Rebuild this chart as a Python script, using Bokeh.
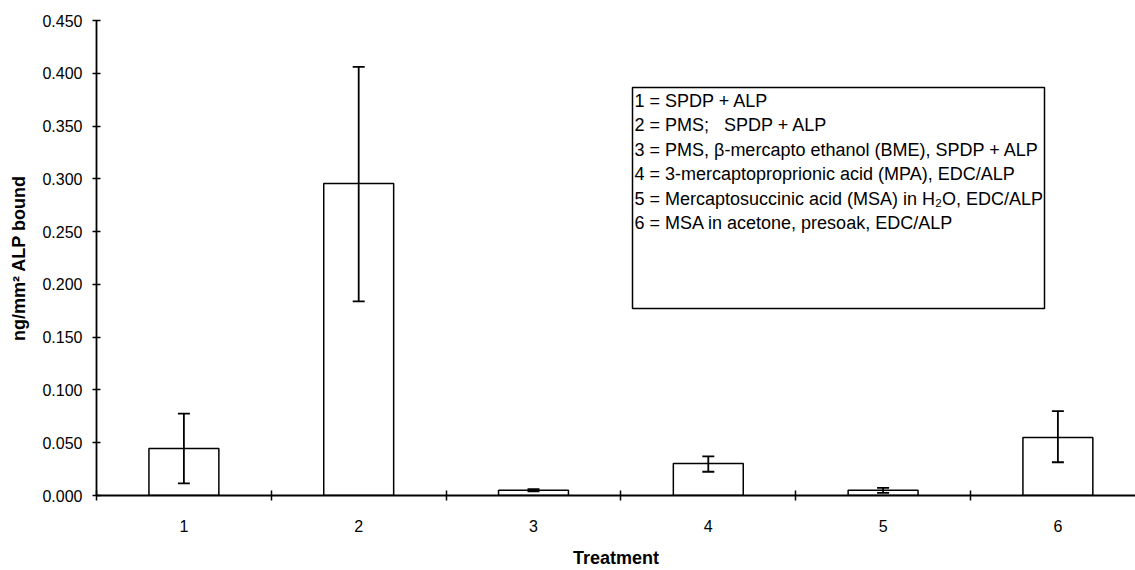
from bokeh.plotting import figure
from bokeh.models import FixedTicker, Whisker, ColumnDataSource, Label, BoxAnnotation, TeeHead, CustomJSTickFormatter
from bokeh.embed import file_html
from bokeh.resources import INLINE

treatments = [1, 2, 3, 4, 5, 6]
means = [0.0445, 0.2955, 0.0050, 0.0303, 0.0050, 0.0550]
err_low = [0.0114, 0.1840, 0.0040, 0.0225, 0.0025, 0.0315]
err_high = [0.0776, 0.4060, 0.0060, 0.0370, 0.0072, 0.0800]
y_ticks = [0.0, 0.05, 0.1, 0.15, 0.2, 0.25, 0.3, 0.35, 0.4, 0.45]
legend_lines = [
    "1 = SPDP + ALP",
    "2 = PMS;\u00a0\u00a0\u00a0SPDP + ALP",
    "3 = PMS, β-mercapto ethanol (BME), SPDP + ALP",
    "4 = 3-mercaptoproprionic acid (MPA), EDC/ALP",
    "5 = Mercaptosuccinic acid (MSA) in H₂O, EDC/ALP",
    "6 = MSA in acetone, presoak, EDC/ALP",
]

FONT = "Liberation Sans"

src = ColumnDataSource(dict(x=treatments, top=means, lo=err_low, hi=err_high))

p = figure(width=1135, height=570, output_backend="svg", toolbar_location=None,
           x_range=(0.5, 6.444), y_range=(0, 0.45),
           min_border_left=96, min_border_right=0, min_border_top=20, min_border_bottom=75)
p.outline_line_color = None
p.xgrid.grid_line_color = None
p.ygrid.grid_line_color = None
p.background_fill_color = "white"

p.vbar(x="x", top="top", bottom=0, width=0.4, source=src,
       fill_color="white", line_color="black", line_width=1.5)

w = Whisker(base="x", lower="lo", upper="hi", source=src, line_color="black", line_width=1.8,
            upper_head=TeeHead(size=12, line_color="black", line_width=1.8),
            lower_head=TeeHead(size=12, line_color="black", line_width=1.8))
w.level = "overlay"
p.add_layout(w)

# x axis
p.xaxis.ticker = FixedTicker(ticks=treatments, minor_ticks=[0.5, 1.5, 2.5, 3.5, 4.5, 5.5, 6.5])
p.xaxis.major_tick_line_color = None
p.xaxis.major_tick_in = 0
p.xaxis.major_tick_out = 0
p.xaxis.minor_tick_line_color = "black"
p.xaxis.minor_tick_in = 5
p.xaxis.minor_tick_out = 5
p.xaxis.minor_tick_line_width = 1.5
p.xaxis.axis_line_width = 1.8
p.xaxis.axis_line_color = "black"
p.xaxis.major_label_text_font = FONT
p.xaxis.major_label_text_font_size = "16px"
p.xaxis.major_label_text_color = "black"
p.xaxis.major_label_standoff = 19
p.xaxis.axis_label = "Treatment"
p.xaxis.axis_label_text_font = FONT
p.xaxis.axis_label_text_font_size = "18px"
p.xaxis.axis_label_text_font_style = "bold"
p.xaxis.axis_label_text_color = "black"
p.xaxis.axis_label_standoff = 13

# y axis
p.yaxis.ticker = FixedTicker(ticks=y_ticks)
p.yaxis.formatter = CustomJSTickFormatter(code="return tick.toFixed(3);")
p.yaxis.major_tick_in = 4
p.yaxis.major_tick_out = 4
p.yaxis.major_tick_line_width = 1.5
p.yaxis.minor_tick_line_color = None
p.yaxis.axis_line_width = 1.8
p.yaxis.axis_line_color = "black"
p.yaxis.major_label_text_font = FONT
p.yaxis.major_label_text_font_size = "16px"
p.yaxis.major_label_text_color = "black"
p.yaxis.major_label_standoff = 10
p.yaxis.axis_label = "ng/mm² ALP bound"
p.yaxis.axis_label_text_font = FONT
p.yaxis.axis_label_text_font_size = "18px"
p.yaxis.axis_label_text_font_style = "bold"
p.yaxis.axis_label_text_color = "black"
p.yaxis.axis_label_standoff = 10

# legend box (screen units, relative to the plot frame)
box = BoxAnnotation(left=536, right=948, top=408, bottom=187,
                    left_units="screen", right_units="screen", top_units="screen", bottom_units="screen",
                    fill_color="white", fill_alpha=1.0, line_color="black", line_alpha=1.0, line_width=1.5)
p.add_layout(box)

for i, line in enumerate(legend_lines):
    lab = Label(x=538, y=395 - i * 24.5, x_units="screen", y_units="screen", text=line,
                text_font=FONT, text_font_size="18px", text_color="black", text_baseline="middle")
    p.add_layout(lab)

open("out.html", "w").write(file_html(p, INLINE))
